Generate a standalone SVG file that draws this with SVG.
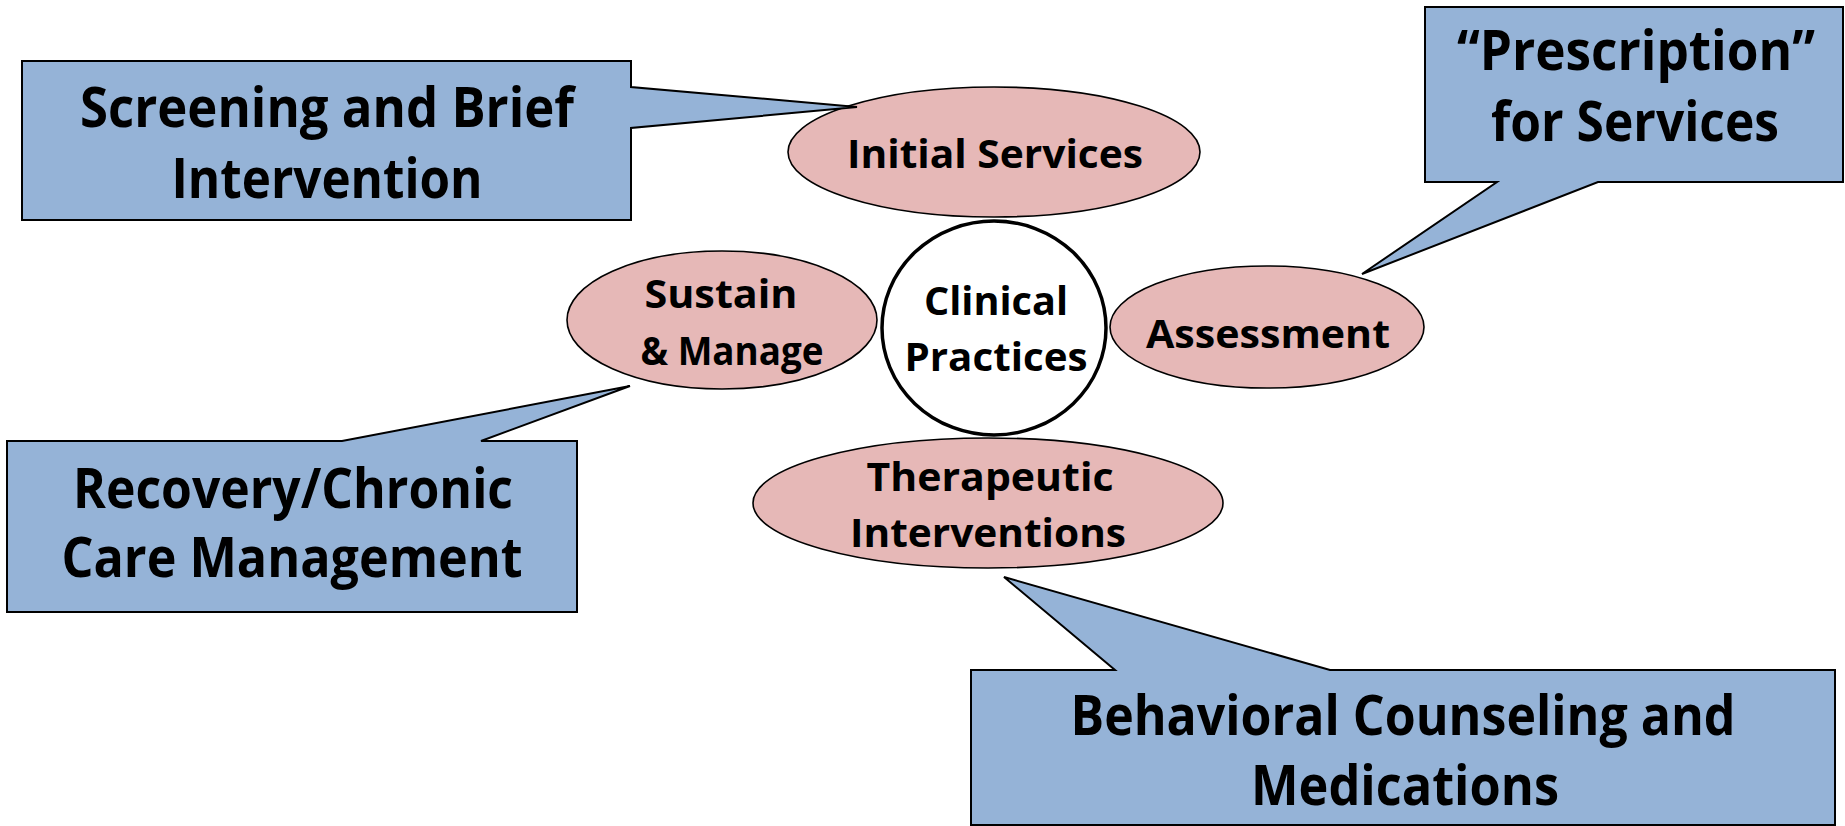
<svg xmlns="http://www.w3.org/2000/svg" width="1845" height="826" viewBox="0 0 1845 826">
<style>
.callout{fill:#95B3D7;stroke:#000;stroke-width:2;stroke-linejoin:miter}
.oval{fill:#E6B8B7;stroke:#000;stroke-width:1.6}
.hub{fill:#fff;stroke:#000;stroke-width:3.5}
text{font-family:"Open Sans","Noto Sans","Liberation Sans",sans-serif;font-weight:bold;fill:#000;text-anchor:middle}
.big{font-size:56px}
.small{font-size:40px}
</style>
<rect width="1845" height="826" fill="#fff"/>
<g id="node-initial-services">
<ellipse class="oval" cx="994" cy="152" rx="206" ry="65"/>
<text class="small" x="995" y="168" textLength="296" lengthAdjust="spacingAndGlyphs">Initial Services</text>
</g>
<g id="node-clinical-practices">
<ellipse class="hub" cx="994" cy="328" rx="112" ry="107"/>
<text class="small" x="996" y="315" textLength="144" lengthAdjust="spacingAndGlyphs">Clinical</text>
<text class="small" x="996" y="371" textLength="183" lengthAdjust="spacingAndGlyphs">Practices</text>
</g>
<g id="node-assessment">
<ellipse class="oval" cx="1267" cy="327" rx="157" ry="61"/>
<text class="small" x="1268" y="348" textLength="244" lengthAdjust="spacingAndGlyphs">Assessment</text>
</g>
<g id="node-sustain-manage">
<ellipse class="oval" cx="722" cy="320" rx="155" ry="69"/>
<text class="small" x="721" y="308" textLength="153" lengthAdjust="spacingAndGlyphs">Sustain</text>
<text class="small" x="732" y="365" textLength="183" lengthAdjust="spacingAndGlyphs">&amp; Manage</text>
</g>
<g id="node-therapeutic-interventions">
<ellipse class="oval" cx="988" cy="503" rx="235" ry="65"/>
<text class="small" x="990" y="491" textLength="247" lengthAdjust="spacingAndGlyphs">Therapeutic</text>
<text class="small" x="988" y="547" textLength="276" lengthAdjust="spacingAndGlyphs">Interventions</text>
</g>
<g id="callout-screening">
<path class="callout" d="M22,61 H631 V87 L857,107 L631,128 V220 H22 Z"/>
<text class="big" x="327" y="127" textLength="494" lengthAdjust="spacingAndGlyphs">Screening and Brief</text>
<text class="big" x="327" y="198" textLength="311" lengthAdjust="spacingAndGlyphs">Intervention</text>
</g>
<g id="callout-prescription">
<path class="callout" d="M1425,7 H1843 V182 H1598 L1362,274 L1497,182 H1425 Z"/>
<text class="big" x="1636" y="70" textLength="358" lengthAdjust="spacingAndGlyphs">“Prescription”</text>
<text class="big" x="1635" y="141" textLength="288" lengthAdjust="spacingAndGlyphs">for Services</text>
</g>
<g id="callout-recovery">
<path class="callout" d="M7,441 H342 L630,386 L481,441 H577 V612 H7 Z"/>
<text class="big" x="293" y="508" textLength="440" lengthAdjust="spacingAndGlyphs">Recovery/Chronic</text>
<text class="big" x="292" y="577" textLength="461" lengthAdjust="spacingAndGlyphs">Care Management</text>
</g>
<g id="callout-behavioral">
<path class="callout" d="M971,670 H1115 L1004,577 L1330,670 H1835 V825 H971 Z"/>
<text class="big" x="1403" y="735" textLength="665" lengthAdjust="spacingAndGlyphs">Behavioral Counseling and</text>
<text class="big" x="1405" y="805" textLength="308" lengthAdjust="spacingAndGlyphs">Medications</text>
</g>
<g id="connectors"/>
</svg>
